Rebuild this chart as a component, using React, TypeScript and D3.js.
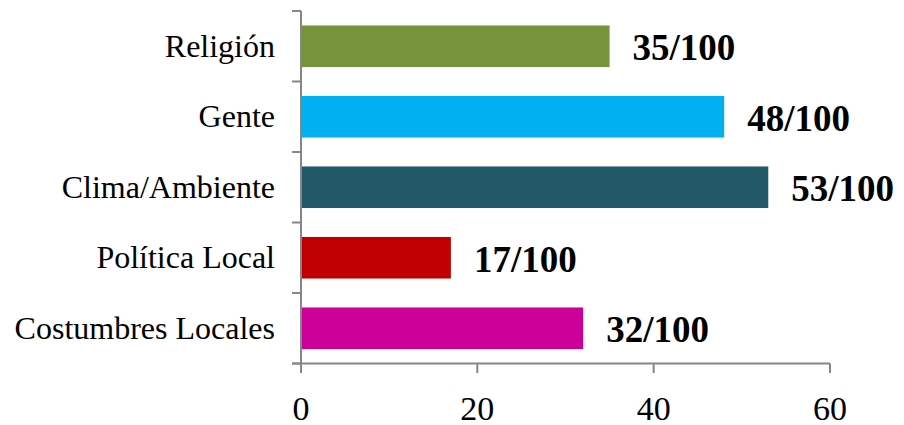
import React from "react";
import * as d3 from "d3";

const categories = ["Religión", "Gente", "Clima/Ambiente", "Política Local", "Costumbres Locales"];
const values = [35, 48, 53, 17, 32];
const valueLabels = ["35/100", "48/100", "53/100", "17/100", "32/100"];
const colors = ["#77933C", "#00B0F0", "#215968", "#C00000", "#CC0099"];
const xTicks = [0, 20, 40, 60];

const W = 904;
const H = 425;
const font = "'Liberation Serif', 'Times New Roman', serif";
const axisColor = "#868686";

export default function App() {
  const x = d3.scaleLinear().domain([0, 60]).range([301, 830]);
  const y = d3.scaleBand<string>().domain(categories).range([11, 363.5]).paddingInner(0.41).paddingOuter(0.205);
  const band = d3.scaleBand<string>().domain(categories).range([11, 363.5]);
  const bounds = [...categories.map((c) => band(c)!), 363.5];

  return (
    <svg width={W} height={H} style={{ position: "absolute", left: 0, top: 0, background: "#fff" }}>
      {categories.map((c, i) => {
        const yy = y(c)!;
        const cy = yy + y.bandwidth() / 2;
        return (
          <g key={c}>
            <rect x={x(0)} y={yy} width={x(values[i]) - x(0)} height={y.bandwidth()} fill={colors[i]} />
            <text x={x(values[i]) + 23} y={cy + 14} fontFamily={font} fontSize={37} fontWeight="bold" fill="#000">
              {valueLabels[i]}
            </text>
            <text x={275} y={cy + 10.5} fontFamily={font} fontSize={32} textAnchor="end" fill="#000">
              {c}
            </text>
          </g>
        );
      })}
      {/* y axis */}
      <line x1={x(0)} x2={x(0)} y1={11} y2={363.5} stroke={axisColor} strokeWidth={2} />
      {bounds.map((b, i) => (
        <line key={i} x1={292} x2={x(0)} y1={b} y2={b} stroke={axisColor} strokeWidth={2} />
      ))}
      {/* x axis */}
      <line x1={x(0) - 9} x2={x(60)} y1={363.5} y2={363.5} stroke={axisColor} strokeWidth={2} />
      {xTicks.map((t) => (
        <g key={t}>
          <line x1={x(t)} x2={x(t)} y1={363.5} y2={373} stroke={axisColor} strokeWidth={2} />
          <text x={x(t)} y={420} fontFamily={font} fontSize={34} textAnchor="middle" fill="#000">
            {t}
          </text>
        </g>
      ))}
    </svg>
  );
}
